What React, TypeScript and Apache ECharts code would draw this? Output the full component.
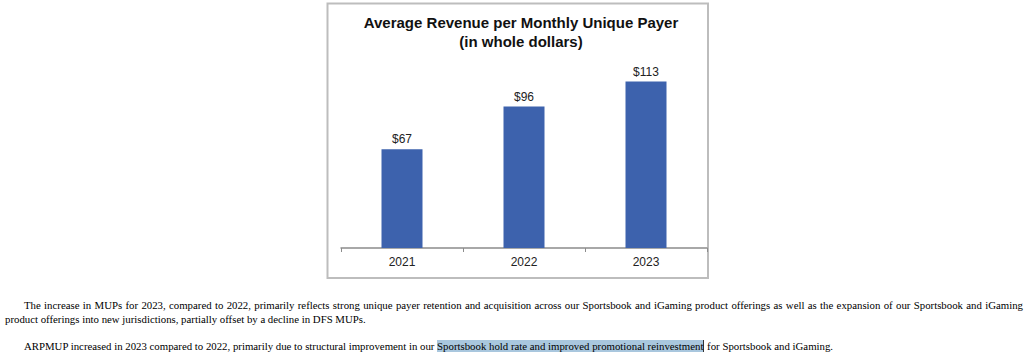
import React, { useEffect, useRef } from "react";
import * as echarts from "echarts";

const categories = ["2021", "2022", "2023"];
const values = [67, 96, 113];
const titleLines = ["Average Revenue per Monthly Unique Payer", "(in whole dollars)"];
const para1Line1 =
  "The increase in MUPs for 2023, compared to 2022, primarily reflects strong unique payer retention and acquisition across our Sportsbook and iGaming product offerings as well as the expansion of our Sportsbook and iGaming";
const para1Line2 = "product offerings into new jurisdictions, partially offset by a decline in DFS MUPs.";
const para2Before = "ARPMUP increased in 2023 compared to 2022, primarily due to structural improvement in our ";
const para2Highlight = "Sportsbook hold rate and improved promotional reinvestment";
const para2After = " for Sportsbook and iGaming.";

export default function App() {
  const ref = useRef<HTMLDivElement>(null);
  useEffect(() => {
    const chart = echarts.init(ref.current!, null, { renderer: "svg" });
    chart.setOption({
      animation: false,
      backgroundColor: "#ffffff",
      grid: { left: 341, right: 317, top: 71.2, bottom: 105 },
      xAxis: {
        type: "category",
        data: categories,
        axisLine: { lineStyle: { color: "#8c8c8c", width: 1.5 } },
        axisTick: { show: true, length: 4, lineStyle: { color: "#8c8c8c" } },
        axisLabel: { color: "#222", fontSize: 12, fontFamily: "Liberation Sans", margin: 8 },
      },
      yAxis: { type: "value", min: 0, max: 120, show: false },
      graphic: [
        {
          type: "rect",
          shape: { x: 327.5, y: 3.5, width: 380.5, height: 274.5 },
          style: { fill: "none", stroke: "#bdbdbd", lineWidth: 2 },
          z: 0,
        },
        {
          type: "text",
          x: 521,
          y: 22.7,
          style: {
            text: titleLines[0],
            font: "bold 15px 'Liberation Sans'",
            fill: "#111",
            textAlign: "center",
            textVerticalAlign: "middle",
          },
        },
        {
          type: "text",
          x: 521,
          y: 41.7,
          style: {
            text: titleLines[1],
            font: "bold 15px 'Liberation Sans'",
            fill: "#111",
            textAlign: "center",
            textVerticalAlign: "middle",
          },
        },
      ],
      series: [
        {
          type: "bar",
          data: values,
          barWidth: 41,
          itemStyle: { color: "#3d62ad" },
          label: {
            show: true,
            position: "top",
            distance: 4,
            formatter: (p: any) => "$" + p.value,
            color: "#222",
            fontSize: 12,
            fontFamily: "Liberation Sans",
          },
        },
      ],
    });
    return () => chart.dispose();
  }, []);

  const textStyle: React.CSSProperties = {
    position: "absolute",
    left: 5,
    width: 1018,
    fontFamily: "'Liberation Serif', serif",
    fontSize: 10.8,
    lineHeight: "13px",
    color: "#000",
    whiteSpace: "nowrap",
  };

  return (
    <div style={{ position: "absolute", left: 0, top: 0, width: 1024, height: 353, background: "#fff", overflow: "hidden" }}>
      <div ref={ref} style={{ position: "absolute", left: 0, top: 0, width: 1024, height: 353 }} />
      <div
        style={{
          ...textStyle,
          top: 299,
          textIndent: 19,
          textAlign: "justify",
          textAlignLast: "justify",
          whiteSpace: "normal",
        }}
      >
        {para1Line1}
      </div>
      <div style={{ ...textStyle, top: 312.5 }}>{para1Line2}</div>
      <div style={{ ...textStyle, top: 339.5, textIndent: 19 }}>
        {para2Before}
        <span style={{ background: "#a9c7de", borderRight: "1px solid #333" }}>{para2Highlight}</span>
        {para2After}
      </div>
    </div>
  );
}
